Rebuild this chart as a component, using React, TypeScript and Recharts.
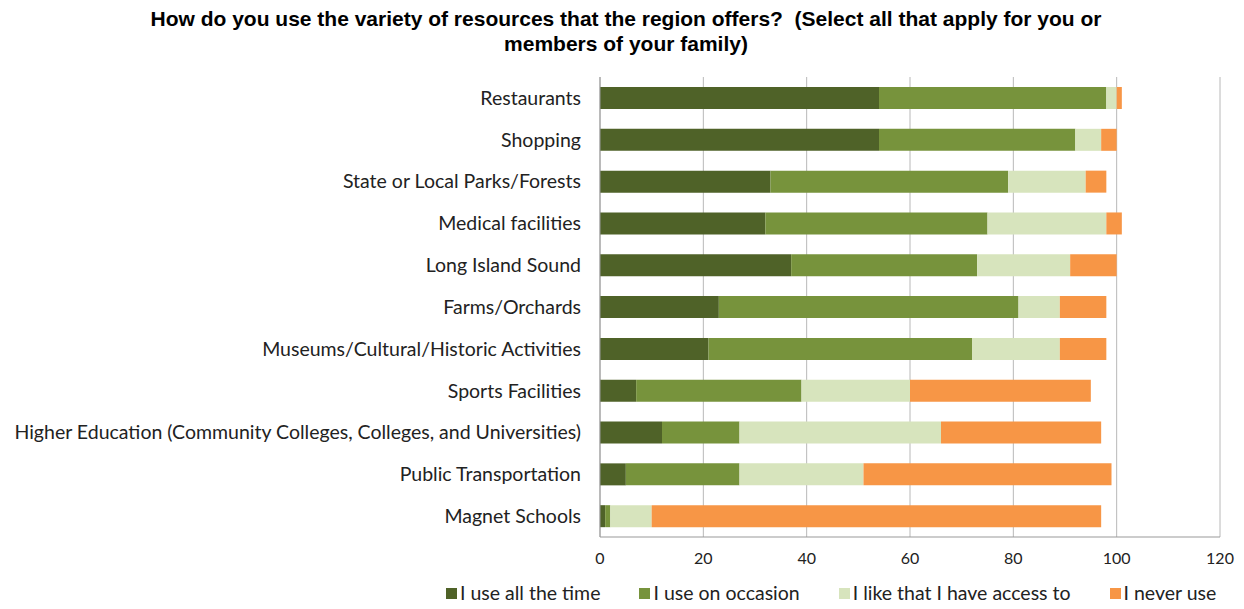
import { BarChart, Bar, XAxis, YAxis, CartesianGrid, Legend } from 'recharts';

const categories = [
  'Restaurants',
  'Shopping',
  'State or Local Parks/Forests',
  'Medical facilities',
  'Long Island Sound',
  'Farms/Orchards',
  'Museums/Cultural/Historic Activities',
  'Sports Facilities',
  'Higher Education (Community Colleges, Colleges, and Universities)',
  'Public Transportation',
  'Magnet Schools',
];

const allTheTime = [54, 54, 33, 32, 37, 23, 21, 7, 12, 5, 1];
const onOccasion = [44, 38, 46, 43, 36, 58, 51, 32, 15, 22, 1];
const haveAccess = [2, 5, 15, 23, 18, 8, 17, 21, 39, 24, 8];
const neverUse = [1, 3, 4, 3, 9, 9, 9, 35, 31, 48, 87];

const xTicks = [0, 20, 40, 60, 80, 100, 120];

const series = [
  { key: 'allTheTime', name: 'I use all the time', color: '#4f6228' },
  { key: 'onOccasion', name: 'I use on occasion', color: '#77933c' },
  { key: 'haveAccess', name: 'I like that I have access to', color: '#d7e4bd' },
  { key: 'neverUse', name: 'I never use', color: '#f79646' },
];

const data = categories.map((name, i) => ({
  name,
  allTheTime: allTheTime[i],
  onOccasion: onOccasion[i],
  haveAccess: haveAccess[i],
  neverUse: neverUse[i],
}));

const labelFont = 'Lato, "Noto Sans", sans-serif';

function LegendRow() {
  return (
    <div
      style={{
        display: 'flex',
        flexWrap: 'nowrap',
        alignItems: 'center',
        height: 24,
        width: 1244,
        boxSizing: 'border-box',
        fontFamily: labelFont,
        fontSize: 19.5,
        lineHeight: '24px',
        color: '#222',
        paddingLeft: 446,
        whiteSpace: 'nowrap',
      }}
    >
      {series.map((s) => (
        <div
          key={s.key}
          style={{ display: 'flex', alignItems: 'center', marginRight: 39, flexShrink: 0 }}
        >
          <span style={{ width: 11, height: 11, background: s.color, marginRight: 3, flexShrink: 0 }} />
          <span>{s.name}</span>
        </div>
      ))}
    </div>
  );
}

export default function App() {
  return (
    <div style={{ position: 'relative', width: 1244, height: 609, margin: -8, background: '#fff' }}>
      <div
        style={{
          position: 'absolute',
          top: 6,
          left: 4,
          width: 1244,
          textAlign: 'center',
          fontFamily: '"Liberation Sans", Arial, sans-serif',
          fontWeight: 'bold',
          fontSize: 21,
          lineHeight: '25px',
          whiteSpace: 'pre',
          color: '#000',
        }}
      >
        {'How do you use the variety of resources that the region offers?  (Select all that apply for you or'}
        <br />
        {'members of your family)'}
      </div>
      <div style={{ position: 'absolute', top: 0, left: 0 }}>
        <BarChart
          width={1244}
          height={609}
          data={data}
          layout="vertical"
          margin={{ top: 77, right: 24, bottom: 0, left: 0 }}
          barSize={22}
        >
          <CartesianGrid horizontal={false} stroke="#b8b8b8" />
          <XAxis
            type="number"
            domain={[0, 120]}
            ticks={xTicks}
            height={48}
            stroke="#999"
            tickLine={false}
            tick={{ fill: '#222', fontSize: 16, fontFamily: labelFont }}
            tickMargin={10}
          />
          <YAxis
            type="category"
            dataKey="name"
            width={600}
            stroke="#999"
            tickLine={false}
            tick={{ fill: '#222', fontSize: 19.5, fontFamily: labelFont }}
            tickMargin={13}
          />
          <Legend
            verticalAlign="bottom"
            height={24}
            wrapperStyle={{ bottom: 4, left: 0, width: 1244 }}
            content={() => <LegendRow />}
          />
          {series.map((s) => (
            <Bar
              key={s.key}
              dataKey={s.key}
              name={s.name}
              stackId="a"
              fill={s.color}
              isAnimationActive={false}
            />
          ))}
        </BarChart>
      </div>
    </div>
  );
}
